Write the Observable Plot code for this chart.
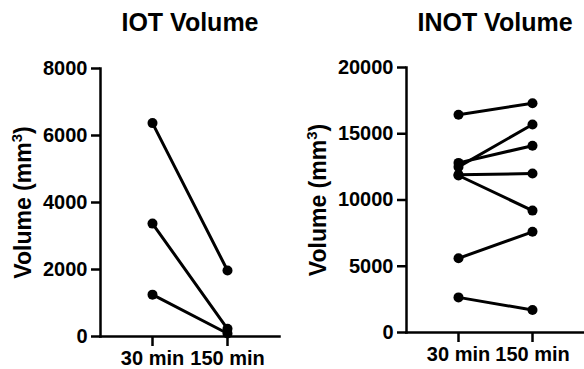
<!DOCTYPE html>
<html>
<head>
<meta charset="utf-8">
<script src="https://cdn.jsdelivr.net/npm/d3@7"></script>
<script src="https://cdn.jsdelivr.net/npm/@observablehq/plot@0.6"></script>
<style>
  html, body { margin: 0; padding: 0; background: #fff; }
  #wrap { position: relative; width: 584px; height: 369px; overflow: hidden; font-family: "Liberation Sans", Arial, sans-serif; }
  .panel { position: absolute; top: 0; }
  .title { position: absolute; top: 7px; font-weight: bold; font-size: 25px; line-height: 30px; text-align: center; white-space: nowrap; color: #000; }
  .chart { position: absolute; top: 40px; left: 0; }
  .chart [aria-label="frame"], .chart [aria-label="frame"] *,
  .chart [aria-label="x-axis tick"], .chart [aria-label="x-axis tick"] *,
  .chart [aria-label="y-axis tick"], .chart [aria-label="y-axis tick"] * {
    stroke-width: 2.5px !important; stroke: #000 !important; stroke-opacity: 1 !important;
  }
</style>
</head>
<body>
<div id="wrap"></div>
<script>
// ---- data ----
const times = ["30 min", "150 min"];
const iotTitle = "IOT Volume";
const inotTitle = "INOT Volume";
const yLabel = "Volume (mm";
const yLabelSup = "3";
const iot30 = [6370, 3370, 1250];
const iot150 = [1970, 230, 90];
const iotTicks = [0, 2000, 4000, 6000, 8000];
const inot30 = [16430, 12500, 12800, 11900, 11850, 5600, 2650];
const inot150 = [17300, 15700, 14100, 12000, 9200, 7600, 1700];
const inotTicks = [0, 5000, 10000, 15000, 20000];

function rows(a, b) {
  return a.flatMap((v, i) => [
    {id: i, t: times[0], v: v},
    {id: i, t: times[1], v: b[i]}
  ]);
}

function makeChart(data, ticks, opts) {
  const svg = Plot.plot({
    width: opts.width, height: 329,
    marginLeft: opts.ml, marginRight: opts.mr, marginTop: opts.mt, marginBottom: opts.mb,
    style: {fontFamily: '"Liberation Sans", Arial, sans-serif', fontSize: "20px", fontWeight: "bold", color: "#000", background: "transparent", overflow: "visible"},
    x: {type: "point", domain: times, padding: 0.68, align: 0.5},
    y: {domain: [ticks[0], ticks[ticks.length - 1]]},
    marks: [
      Plot.axisX({tickSize: 10, tickPadding: 4, strokeWidth: 2.5, label: null}),
      Plot.axisY({ticks: ticks, tickFormat: d => String(d), tickSize: 9, tickPadding: 4, strokeWidth: 2.5,
                  label: yLabel + yLabelSup + ")", labelAnchor: "center", labelOffset: opts.lo}),
      Plot.frame({anchor: "left", strokeWidth: 2.5}),
      Plot.frame({anchor: "bottom", strokeWidth: 2.5}),
      Plot.line(data, {x: "t", y: "v", z: "id", stroke: "black", strokeWidth: 3}),
      Plot.dot(data, {x: "t", y: "v", r: 5, fill: "black", stroke: "none"})
    ]
  });
  // enforce tick-label sizes
  svg.querySelectorAll("g[aria-label]").forEach(g => {
    const a = g.getAttribute("aria-label");
    if (/tick label/.test(a)) {
      g.setAttribute("font-size", "20");
      g.querySelectorAll("text").forEach(t => { t.setAttribute("font-size", "20"); t.setAttribute("font-weight", "bold"); });
    }
  });
  // superscript in axis label
  const lab = svg.querySelector('g[aria-label="y-axis label"] text');
  if (lab) {
    lab.textContent = "";
    lab.setAttribute("font-size", "23");
    lab.parentNode.setAttribute("font-size", "23");
    const ns = "http://www.w3.org/2000/svg";
    const t1 = document.createElementNS(ns, "tspan"); t1.textContent = yLabel;
    const t2 = document.createElementNS(ns, "tspan"); t2.textContent = yLabelSup;
    t2.setAttribute("font-size", "15"); t2.setAttribute("dy", "-9");
    const t3 = document.createElementNS(ns, "tspan"); t3.textContent = ")"; t3.setAttribute("dy", "9");
    lab.append(t1, t2, t3);
  }
  return svg;
}

function panel(left, width, title, titleCenter, svg) {
  const p = document.createElement("div");
  p.className = "panel";
  p.style.left = left + "px";
  p.style.width = width + "px";
  p.style.height = "369px";
  const t = document.createElement("div");
  t.className = "title";
  t.textContent = title;
  t.style.left = (titleCenter - 100) + "px";
  t.style.width = "200px";
  p.appendChild(t);
  svg.classList.add("chart");
  p.appendChild(svg);
  document.getElementById("wrap").appendChild(p);
}

const left = makeChart(rows(iot30, iot150), iotTicks, {width: 290, ml: 100, mr: 11, mt: 28, mb: 33, lo: 86});
panel(0, 290, iotTitle, 190, left);
const right = makeChart(rows(inot30, inot150), inotTicks, {width: 294, ml: 116, mr: 1, mt: 27, mb: 37, lo: 97});
panel(290, 294, inotTitle, 205, right);
</script>
</body>
</html>
